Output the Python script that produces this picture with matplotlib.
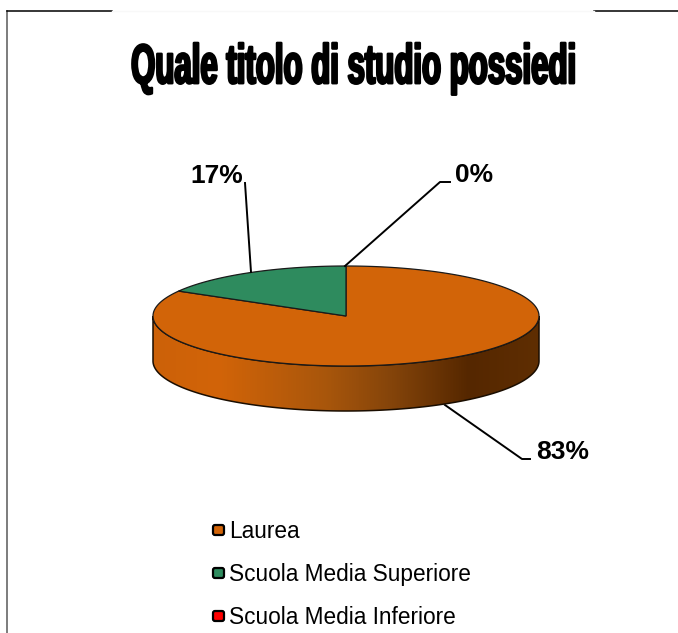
"""Quale titolo di studio possiedi - 3D looking pie drawn by hand."""

import numpy as np
import matplotlib
matplotlib.use("Agg")
import matplotlib.pyplot as plt
import matplotlib.patheffects as pe
from matplotlib.colors import LinearSegmentedColormap
from matplotlib.patches import FancyBboxPatch, Polygon
from matplotlib.transforms import Affine2D

categories = ["Laurea", "Scuola Media Superiore", "Scuola Media Inferiore"]
values = [83.3, 16.7, 0]
colors = ["#D26408", "#2E8B5E", "#FF0000"]
legend_y = [530, 573, 616]

# where the percent labels and their leaders go (pixels)
label_xy = [(563, 452), (217, 176), (474, 175)]
leader_pts = [
    [(445, 405), (522, 459), (530, 459)],
    [(251, 272), (245, 183)],
    [(345, 266), (440, 182), (450, 182)],
]

CX, CY, RX, RY, DEPTH = 346, 316, 193, 50, 45

plt.rcParams["font.family"] = ["Liberation Sans", "DejaVu Sans"]


class Reshape(pe.AbstractPathEffect):
    """Scale text about a device point, stroke it a bit for weight."""

    def __init__(self, sx, sy, cx, cy, lw):
        super().__init__()
        self.sx, self.sy, self.cx, self.cy, self.lw = sx, sy, cx, cy, lw

    def draw_path(self, renderer, gc, tpath, affine, rgbFace=None):
        gc0 = renderer.new_gc()
        gc0.copy_properties(gc)
        gc0.set_linewidth(self.lw)
        gc0.set_foreground("black")
        squeeze = Affine2D().translate(-self.cx, -self.cy).scale(self.sx, self.sy).translate(self.cx, self.cy)
        renderer.draw_path(gc0, tpath, affine + squeeze, rgbFace)
        gc0.restore()


def ellipse_pts(a0, a1, n=200):
    # angles are clockwise from 12 o'clock, in radians
    t = np.linspace(a0, a1, n)
    return np.column_stack([CX + RX * np.sin(t), CY - RY * np.cos(t)])


fig = plt.figure(figsize=(6.78, 6.33), dpi=100)
ax = fig.add_axes([0, 0, 1, 1])
ax.set_xlim(0, 678)
ax.set_ylim(633, 0)
ax.axis("off")

# frame, cut behind the title
ax.plot([7, 7], [633, 11], color="#666666", lw=1.2)
ax.plot([7, 112], [11, 11], color="black", lw=1.1)
ax.plot([594, 678], [11, 11], color="black", lw=1.1)
ax.plot([112, 594], [11, 11], color="#F8F8F8", lw=1)

# side wall with the horizontal shading
front = ellipse_pts(np.pi / 2, 3 * np.pi / 2)
side_pts = np.vstack([front, (front + [0, DEPTH])[::-1]])
side_cmap = LinearSegmentedColormap.from_list(
    "side",
    [(0, "#CC6109"), (0.17, "#D26408"), (0.45, "#A8560C"), (0.62, "#84440A"),
     (0.82, "#552700"), (1, "#5F2E02")],
)
grad = np.linspace(0, 1, 256).reshape(1, -1)
im = ax.imshow(grad, cmap=side_cmap, aspect="auto", zorder=2,
               extent=[CX - RX, CX + RX, CY + RY + DEPTH, CY])
ax.set_xlim(0, 678)
ax.set_ylim(633, 0)
side = Polygon(side_pts, closed=True, fc="none", ec="#1A0D00", lw=1.1, zorder=3)
ax.add_patch(side)
im.set_clip_path(side)

# top face, slices clockwise from 12 o'clock
start = 0.0
total = sum(values)
for val, col in zip(values, colors):
    sweep = 2 * np.pi * val / total
    if val > 0:
        pts = np.vstack([[CX, CY], ellipse_pts(start, start + sweep)])
        ax.add_patch(Polygon(pts, closed=True, fc=col, ec="#1A1A1A", lw=0.9, zorder=4))
    start += sweep

# leaders and percent labels
for pts, xy, val in zip(leader_pts, label_xy, values):
    arr = np.array(pts)
    ax.plot(arr[:, 0], arr[:, 1], color="black", lw=1.4, zorder=1 if pts[0][1] > 400 else 5)
    ax.text(xy[0], xy[1], f"{val:.0f}%", fontsize=19, fontweight="bold",
            ha="center", va="center", color="black", zorder=6)

# legend
for name, col, y in zip(categories, colors, legend_y):
    ax.add_patch(FancyBboxPatch((213, y - 5), 11, 10, boxstyle="round,pad=0,rounding_size=2",
                                fc=col, ec="black", lw=1.6, zorder=5))
    ax.text(229, y + 1, name, fontsize=16.3, ha="left", va="center", color="black")

# title, very condensed and heavy; the reshape keeps it real text
title = ax.text(353, 69, "Quale titolo di studio possiedi", fontsize=31, fontweight="bold",
                ha="center", va="center", color="black")
title.set_path_effects([Reshape(0.724, 1.29, 353, 633 - 69, 1.8)])

fig.savefig("out.png", dpi=100)
